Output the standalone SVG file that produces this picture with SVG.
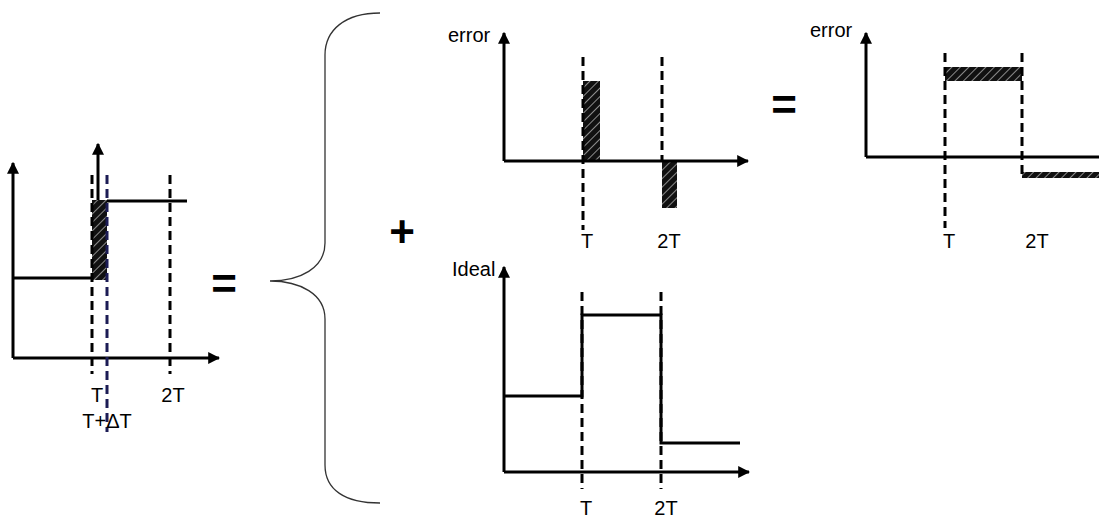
<svg xmlns="http://www.w3.org/2000/svg" width="1099" height="517" viewBox="0 0 1099 517">
  <defs>
    <marker id="arr" viewBox="0 0 10 10" refX="9" refY="5" markerWidth="4" markerHeight="4" orient="auto" markerUnits="strokeWidth">
      <path d="M0,0 L10,5 L0,10 z" fill="#000"/>
    </marker>
    <pattern id="hatch" width="6" height="6" patternUnits="userSpaceOnUse" patternTransform="rotate(45)">
      <rect width="6" height="6" fill="#111"/>
      <line x1="0" y1="0" x2="0" y2="6" stroke="#ddd" stroke-width="1.2"/>
    </pattern>
    <style>
      .axis { stroke: #000; stroke-width: 3; fill: none; }
      .sig { stroke: #000; stroke-width: 3; fill: none; }
      .dash { stroke: #000; stroke-width: 3; stroke-dasharray: 9 5; fill: none; }
      .dash-navy { stroke: #1c1c55; stroke-width: 3; stroke-dasharray: 9 5; fill: none; }
      .hatch { fill: url(#hatch); }
      .lbl { font-family: "Liberation Sans", Arial, sans-serif; font-size: 20px; fill: #000; }
      .op { font-family: "Liberation Sans", Arial, sans-serif; font-size: 44px; font-weight: bold; fill: #000; }
      .brace { stroke: #333; stroke-width: 1.3; fill: none; }
    </style>
  </defs>

  <!-- actual step response with delay -->
  <g id="plot-actual">
    <rect class="hatch" x="92" y="200" width="15" height="80"/>
    <line class="axis" x1="13" y1="358" x2="13" y2="163" marker-end="url(#arr)"/>
    <line class="axis" x1="13" y1="358" x2="219" y2="358" marker-end="url(#arr)"/>
    <line class="axis" x1="98" y1="200" x2="98" y2="144" marker-end="url(#arr)"/>
    <line class="dash" x1="92" y1="175" x2="92" y2="374"/>
    <line class="dash-navy" x1="107" y1="175" x2="107" y2="432"/>
    <line class="dash" x1="170" y1="175" x2="170" y2="374"/>
    <polyline class="sig" points="13,278 92,278"/>
    <polyline class="sig" points="107,201 187,201"/>
    <text class="lbl" x="97" y="402" text-anchor="middle">T</text>
    <text class="lbl" x="173" y="402" text-anchor="middle">2T</text>
    <text class="lbl" x="107" y="428" text-anchor="middle">T+ΔT</text>
  </g>

  <text id="eq-left" class="op" x="224" y="299" text-anchor="middle">=</text>

  <!-- curly brace grouping the two components -->
  <path id="brace" class="brace" d="M380,13 C345,13 325,30 325,55 V243 C325,268 300,281 270,281 C300,281 325,294 325,319 V465 C325,490 345,503 380,503"/>

  <text id="plus" class="op" x="402" y="247" text-anchor="middle">+</text>

  <!-- error pulses -->
  <g id="plot-error">
    <rect class="hatch" x="583" y="81" width="17" height="80"/>
    <rect class="hatch" x="662" y="161" width="15" height="47"/>
    <line class="axis" x1="504" y1="161" x2="504" y2="33" marker-end="url(#arr)"/>
    <line class="axis" x1="504" y1="161" x2="748" y2="161" marker-end="url(#arr)"/>
    <line class="dash" x1="583" y1="57" x2="583" y2="230"/>
    <line class="dash" x1="662" y1="57" x2="662" y2="161"/>
    <text class="lbl" x="448" y="42">error</text>
    <text class="lbl" x="587" y="248" text-anchor="middle">T</text>
    <text class="lbl" x="669" y="248" text-anchor="middle">2T</text>
  </g>

  <text id="eq-right" class="op" x="784" y="120" text-anchor="middle">=</text>

  <!-- equivalent error -->
  <g id="plot-error-equiv">
    <rect class="hatch" x="945" y="67" width="77" height="14"/>
    <rect class="hatch" x="1022" y="172" width="77" height="6"/>
    <line class="axis" x1="866" y1="157" x2="866" y2="33" marker-end="url(#arr)"/>
    <line class="axis" x1="866" y1="157" x2="1099" y2="157"/>
    <line class="dash" x1="945" y1="53" x2="945" y2="228"/>
    <line class="dash" x1="1022" y1="53" x2="1022" y2="178"/>
    <text class="lbl" x="810" y="37">error</text>
    <text class="lbl" x="949" y="248" text-anchor="middle">T</text>
    <text class="lbl" x="1037" y="248" text-anchor="middle">2T</text>
  </g>

  <!-- ideal response -->
  <g id="plot-ideal">
    <line class="axis" x1="504" y1="472" x2="504" y2="267" marker-end="url(#arr)"/>
    <line class="axis" x1="504" y1="472" x2="749" y2="472" marker-end="url(#arr)"/>
    <line class="dash" x1="582" y1="292" x2="582" y2="489"/>
    <line class="dash" x1="661" y1="292" x2="661" y2="489"/>
    <polyline class="sig" points="504,396 582,396 582,315 661,315 661,443 740,443"/>
    <text class="lbl" x="452" y="276">Ideal</text>
    <text class="lbl" x="586" y="515" text-anchor="middle">T</text>
    <text class="lbl" x="666" y="515" text-anchor="middle">2T</text>
  </g>
</svg>
